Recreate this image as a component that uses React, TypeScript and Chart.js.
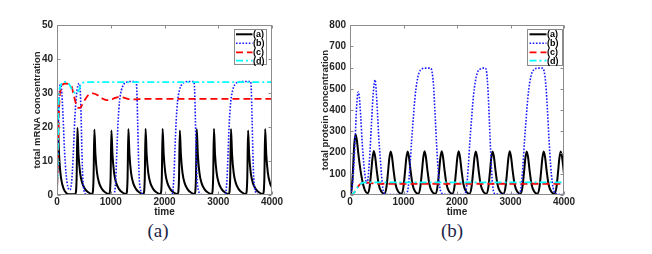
import React, { useEffect, useRef } from "react";
import { Chart, registerables } from "chart.js";

Chart.register(...registerables);

// ---------- data ----------
const TIME_TICKS = [0, 1000, 2000, 3000, 4000];
const MRNA_TICKS = [0, 10, 20, 30, 40, 50];
const PROTEIN_TICKS = [0, 100, 200, 300, 400, 500, 600, 700, 800];
const LEGEND_LABELS = ["(a)", "(b)", "(c)", "(d)"];
const MRNA_TITLE = "total mRNA concentration";
const PROTEIN_TITLE = "total protein concentration";
const X_TITLE = "time";
const CAPTIONS = ["(a)", "(b)"];

// mRNA, series (a)
const mrnaA_t = [
  0, 12, 30, 60, 100, 150, 220,
  340, 365, 380, 400, 430, 470, 520, 580,
  655, 680, 695, 715, 745, 785, 835, 895,
  972, 997, 1012, 1032, 1062, 1102, 1152, 1212,
  1288, 1313, 1328, 1348, 1378, 1418, 1468, 1528,
  1608, 1633, 1648, 1668, 1698, 1738, 1788, 1848,
  1925, 1950, 1965, 1985, 2015, 2055, 2105, 2165,
  2245, 2270, 2285, 2305, 2335, 2375, 2425, 2485,
  2560, 2585, 2600, 2620, 2650, 2690, 2740, 2800,
  2880, 2905, 2920, 2940, 2970, 3010, 3060, 3120,
  3197, 3222, 3237, 3257, 3287, 3327, 3377, 3437,
  3515, 3540, 3555, 3575, 3605, 3645, 3695, 3755,
  3833, 3858, 3873, 3893, 3923, 3963, 4000,
];
const mrnaA_y = [
  0, 24.5, 15, 7, 3, 1, 0.2,
  0.3, 5, 19.8, 12, 6.5, 3.5, 1.8, 0.8,
  0.3, 5, 19.3, 12, 6.5, 3.5, 1.8, 0.8,
  0.3, 5, 19.0, 12, 6.5, 3.5, 1.8, 0.8,
  0.3, 5, 19.4, 12, 6.5, 3.5, 1.8, 0.8,
  0.3, 5, 19.5, 12, 6.5, 3.5, 1.8, 0.8,
  0.3, 5, 19.5, 12, 6.5, 3.5, 1.8, 0.8,
  0.3, 5, 19.0, 12, 6.5, 3.5, 1.8, 0.8,
  0.3, 5, 19.4, 12, 6.5, 3.5, 1.8, 0.8,
  0.3, 5, 19.5, 12, 6.5, 3.5, 1.8, 0.8,
  0.3, 5, 19.4, 12, 6.5, 3.5, 1.8, 0.8,
  0.3, 5, 19.0, 12, 6.5, 3.5, 1.8, 0.8,
  0.3, 5, 19.4, 12, 6.5, 3.5, 2.2,
];

// mRNA, series (b)
const mrnaB_t = [
  0, 15, 35, 60, 85, 110, 140, 170, 200, 240, 270, 300, 330, 360, 390, 415, 435, 450, 465, 480, 500, 530, 600,
  1050, 1072, 1094, 1116, 1138, 1163, 1198, 1240, 1300, 1380, 1470, 1485, 1500, 1515, 1530, 1560, 1620,
  2130, 2152, 2174, 2196, 2218, 2243, 2278, 2320, 2380, 2460, 2545, 2560, 2575, 2590, 2605, 2635, 2690,
  3120, 3142, 3164, 3186, 3208, 3233, 3268, 3310, 3370, 3450, 3600, 3615, 3630, 3645, 3660, 3690, 3750, 4000,
];
const mrnaB_y = [
  0, 10, 26, 32.5, 31, 24, 13, 6, 2.5, 1.5, 3.5, 11, 22, 29, 32.3, 32.8, 30, 22, 12, 5, 1.5, 0.3, 0.05,
  0.05, 0.8, 5, 14, 22, 27.5, 30.8, 32.5, 33.2, 33.4, 33.4, 31, 22, 12, 5, 1.2, 0.1,
  0.05, 0.8, 5, 14, 22, 27.5, 30.8, 32.5, 33.2, 33.4, 33.4, 31, 22, 12, 5, 1.2, 0.1,
  0.05, 0.8, 5, 14, 22, 27.5, 30.8, 32.5, 33.2, 33.4, 33.4, 31, 22, 12, 5, 1.2, 0.1, 0.05,
];

// mRNA, series (c)
const mrnaC_t = [0, 20, 40, 80, 150, 230, 270, 310, 350, 390, 420, 460, 520, 590, 670, 750, 830, 920, 980, 1060, 1140, 1220, 1320, 1450, 1600, 1800, 4000];
const mrnaC_y = [0, 14, 26, 31.5, 32.8, 32.6, 32, 29.5, 27, 25.7, 25.6, 26.3, 28, 29.5, 29.9, 29.4, 28.5, 27.9, 27.9, 28.4, 28.8, 28.7, 28.3, 28.1, 28.3, 28.3, 28.3];

// mRNA, series (d)
const mrnaD_t = [0, 15, 30, 50, 80, 130, 180, 230, 280, 330, 370, 410, 450, 500, 600, 4000];
const mrnaD_y = [0, 12, 26, 31, 32.6, 33.3, 33.3, 32.5, 31, 30.1, 30, 31, 32.5, 33.1, 33.2, 33.2];

// protein, series (a)
const protA_t = [
  0, 20, 50, 80, 105, 130, 160, 200, 240, 280, 327,
  365, 395, 420, 445, 470, 500, 535, 585,
  642, 680, 710, 735, 760, 785, 815, 850, 900,
  959, 997, 1027, 1052, 1077, 1102, 1132, 1167, 1217,
  1275, 1313, 1343, 1368, 1393, 1418, 1448, 1483, 1533,
  1595, 1633, 1663, 1688, 1713, 1738, 1768, 1803, 1853,
  1912, 1950, 1980, 2005, 2030, 2055, 2085, 2120, 2170,
  2232, 2270, 2300, 2325, 2350, 2375, 2405, 2440, 2490,
  2547, 2585, 2615, 2640, 2665, 2690, 2720, 2755, 2805,
  2867, 2905, 2935, 2960, 2985, 3010, 3040, 3075, 3125,
  3184, 3222, 3252, 3277, 3302, 3327, 3357, 3392, 3442,
  3502, 3540, 3570, 3595, 3620, 3645, 3675, 3710, 3760,
  3820, 3858, 3888, 3913, 3938, 3963, 3993, 4000,
];
const protA_y = [
  0, 8, 90, 240, 285, 255, 185, 110, 55, 22, 8,
  35, 105, 172, 207, 180, 115, 52, 16,
  6, 35, 105, 172, 205, 180, 115, 52, 16,
  6, 35, 105, 172, 205, 180, 115, 52, 16,
  6, 35, 105, 172, 206, 180, 115, 52, 16,
  6, 35, 105, 172, 206, 180, 115, 52, 16,
  6, 35, 105, 172, 206, 180, 115, 52, 16,
  6, 35, 105, 172, 205, 180, 115, 52, 16,
  6, 35, 105, 172, 205, 180, 115, 52, 16,
  6, 35, 105, 172, 206, 180, 115, 52, 16,
  6, 35, 105, 172, 205, 180, 115, 52, 16,
  6, 35, 105, 172, 205, 180, 115, 52, 16,
  6, 35, 105, 172, 205, 180, 115, 98,
];

// protein, series (b)
const protB_t = [
  0, 50, 90, 125, 155, 175, 200, 230, 260, 290, 312, 335, 365, 400, 435, 468, 490, 515, 540, 561, 590, 623, 660, 750, 1040,
  1060, 1090, 1120, 1150, 1180, 1215, 1250, 1290, 1340, 1400, 1500, 1530, 1560, 1590, 1620, 1650, 1680, 1710, 1760,
  2130, 2150, 2180, 2210, 2240, 2270, 2305, 2340, 2380, 2430, 2490, 2530, 2555, 2580, 2605, 2630, 2655, 2680, 2720,
  3150, 3170, 3200, 3230, 3260, 3290, 3325, 3360, 3400, 3450, 3510, 3600, 3630, 3660, 3690, 3720, 3750, 3780, 3810, 3850, 4000,
];
const protB_y = [
  0, 60, 230, 420, 485, 460, 370, 240, 140, 75, 55, 75, 170, 330, 480, 542, 490, 380, 260, 190, 90, 18, 6, 2, 2,
  5, 40, 130, 250, 350, 460, 530, 575, 592, 597, 597, 585, 520, 380, 230, 110, 35, 10, 3,
  2, 5, 40, 130, 250, 350, 460, 530, 575, 592, 597, 597, 575, 490, 350, 200, 80, 20, 5,
  2, 5, 40, 130, 250, 350, 460, 530, 575, 592, 597, 597, 580, 520, 400, 260, 140, 60, 20, 6, 2,
];

// protein, series (c)
const protC_t = [0, 40, 80, 120, 160, 200, 250, 300, 360, 420, 480, 4000];
const protC_y = [0, 3, 12, 28, 43, 53, 58, 59, 57, 55, 53, 53];

// protein, series (d)
const protD_t = [0, 40, 80, 120, 160, 200, 250, 300, 4000];
const protD_y = [0, 3, 12, 28, 43, 53, 58.5, 59.5, 59.5];

// ---------- styling ----------
const FONT = "'Liberation Sans', Arial, Helvetica, sans-serif";
const TEXT_COLOR = "#262626";
const BOX_COLOR = "#8c8c8c";
const STYLES = [
  { color: "#000000", width: 2, dash: [] as number[] },
  { color: "#1a1aff", width: 1.6, dash: [1.6, 1.6] },
  { color: "#ff0000", width: 1.8, dash: [7, 4] },
  { color: "#00ffff", width: 1.8, dash: [7, 3, 2, 3] },
];

function pts(t: number[], y: number[]) {
  return t.map((x, i) => ({ x, y: y[i] }));
}

const boxPlugin = {
  id: "matlabBox",
  afterDraw(chart: any) {
    const { ctx, chartArea: a, scales } = chart;
    const L = Math.round(a.left) + 0.5;
    const R = Math.round(a.right) - 0.5;
    const T = Math.round(a.top) + 0.5;
    const B = Math.round(a.bottom) - 0.5;
    ctx.save();
    ctx.strokeStyle = BOX_COLOR;
    ctx.lineWidth = 1;
    ctx.setLineDash([]);
    ctx.strokeRect(L, T, R - L, B - T);
    ctx.beginPath();
    const tl = 3;
    for (const tk of scales.x.ticks) {
      const px = Math.round(scales.x.getPixelForValue(tk.value)) + 0.5;
      ctx.moveTo(px, B);
      ctx.lineTo(px, B - tl);
      ctx.moveTo(px, T);
      ctx.lineTo(px, T + tl);
    }
    for (const tk of scales.y.ticks) {
      const py = Math.round(scales.y.getPixelForValue(tk.value)) + 0.5;
      ctx.moveTo(L, py);
      ctx.lineTo(L + tl, py);
      ctx.moveTo(R, py);
      ctx.lineTo(R - tl, py);
    }
    ctx.stroke();
    ctx.restore();
  },
};

type PlotProps = {
  left: number;
  width: number;
  yAxisWidth: number;
  yMax: number;
  yTicks: number[];
  yTitle: string;
  series: { t: number[]; y: number[] }[];
};

const CANVAS_H = 218;

function Plot(props: PlotProps) {
  const ref = useRef<HTMLCanvasElement>(null);
  useEffect(() => {
    const tickFont = { family: FONT, size: 10, weight: "bold" as const };
    const titleFont = { family: FONT, size: 9.5, weight: "bold" as const };
    const chart = new Chart(ref.current as HTMLCanvasElement, {
      type: "line",
      data: {
        datasets: props.series.map((s, i) => ({
          label: LEGEND_LABELS[i],
          data: pts(s.t, s.y),
          borderColor: STYLES[i].color,
          borderWidth: STYLES[i].width,
          borderDash: STYLES[i].dash,
          borderCapStyle: "butt" as const,
          pointRadius: 0,
          cubicInterpolationMode: "monotone" as const,
          fill: false,
          order: 3 - i,
        })),
      },
      options: {
        animation: false,
        responsive: false,
        devicePixelRatio: 1,
        events: [],
        layout: { padding: { top: 25, right: 18, left: 0, bottom: 0 } },
        plugins: { legend: { display: false }, tooltip: { enabled: false } },
        scales: {
          x: {
            type: "linear",
            min: 0,
            max: 4000,
            afterBuildTicks: (s: any) => {
              s.ticks = TIME_TICKS.map((v) => ({ value: v }));
            },
            afterFit: (s: any) => {
              s.height = CANVAS_H - 195;
            },
            grid: { display: false, drawTicks: false },
            border: { display: false },
            ticks: { padding: 1, color: TEXT_COLOR, font: tickFont, maxRotation: 0, autoSkip: false, callback: (v: any) => String(v) },
            title: { display: true, text: X_TITLE, padding: 0, color: TEXT_COLOR, font: { family: FONT, size: 10, weight: "bold" as const } },
          },
          y: {
            type: "linear",
            min: 0,
            max: props.yMax,
            afterBuildTicks: (s: any) => {
              s.ticks = props.yTicks.map((v) => ({ value: v }));
            },
            afterFit: (s: any) => {
              s.width = props.yAxisWidth;
            },
            grid: { display: false, drawTicks: false },
            border: { display: false },
            ticks: { padding: 4, color: TEXT_COLOR, font: tickFont, autoSkip: false, callback: (v: any) => String(v) },
            title: { display: true, text: props.yTitle, padding: 0, color: TEXT_COLOR, font: titleFont },
          },
        },
      } as any,
      plugins: [boxPlugin],
    });
    return () => chart.destroy();
  }, []);
  return (
    <canvas
      ref={ref}
      width={props.width}
      height={CANVAS_H}
      style={{ position: "absolute", left: props.left, top: 0, width: props.width, height: CANVAS_H }}
    />
  );
}

function Legend(props: { left: number; top: number; width: number; height: number; x1: number; x2: number; tx: number }) {
  const rows = [5.3, 14.3, 23.3, 31.7];
  return (
    <div
      style={{
        position: "absolute",
        left: props.left,
        top: props.top,
        width: props.width,
        height: props.height,
        border: `1px solid ${BOX_COLOR}`,
        background: "#fff",
        boxSizing: "border-box",
      }}
    >
      <svg width={props.width} height={props.height} style={{ position: "absolute", left: -1, top: -1, overflow: "visible" }}>
        {LEGEND_LABELS.map((lab, i) => (
          <g key={lab}>
            <line
              x1={props.x1}
              x2={props.x2}
              y1={rows[i]}
              y2={rows[i]}
              stroke={STYLES[i].color}
              strokeWidth={STYLES[i].width}
              strokeDasharray={STYLES[i].dash.length ? STYLES[i].dash.join(" ") : undefined}
            />
            <text x={props.tx} y={rows[i]} dominantBaseline="central" fontFamily={FONT} fontSize={9} fontWeight="bold" fill="#000">
              {lab}
            </text>
          </g>
        ))}
      </svg>
    </div>
  );
}

function Caption(props: { cx: number; cy: number; text: string }) {
  return (
    <div
      style={{
        position: "absolute",
        left: props.cx - 30,
        top: props.cy - 12,
        width: 60,
        height: 24,
        lineHeight: "24px",
        textAlign: "center",
        fontFamily: "'Liberation Serif', 'Times New Roman', serif",
        fontSize: 19,
        color: "#1c2548",
      }}
    >
      {props.text}
    </div>
  );
}

export default function App() {
  return (
    <div style={{ position: "absolute", left: 0, top: 0, width: 652, height: 254, background: "#fff", overflow: "hidden" }}>
      <Plot
        left={32}
        width={258}
        yAxisWidth={25}
        yMax={50}
        yTicks={MRNA_TICKS}
        yTitle={MRNA_TITLE}
        series={[
          { t: mrnaA_t, y: mrnaA_y },
          { t: mrnaB_t, y: mrnaB_y },
          { t: mrnaC_t, y: mrnaC_y },
          { t: mrnaD_t, y: mrnaD_y },
        ]}
      />
      <Plot
        left={320}
        width={262}
        yAxisWidth={30}
        yMax={800}
        yTicks={PROTEIN_TICKS}
        yTitle={PROTEIN_TITLE}
        series={[
          { t: protA_t, y: protA_y },
          { t: protB_t, y: protB_y },
          { t: protC_t, y: protC_y },
          { t: protD_t, y: protD_y },
        ]}
      />
      <Legend left={234} top={29} width={33} height={36} x1={2} x2={18.5} tx={19} />
      <Legend left={527} top={29} width={36} height={37} x1={2.5} x2={19.5} tx={20} />
      <Caption cx={158} cy={231} text={CAPTIONS[0]} />
      <Caption cx={452} cy={231} text={CAPTIONS[1]} />
    </div>
  );
}
